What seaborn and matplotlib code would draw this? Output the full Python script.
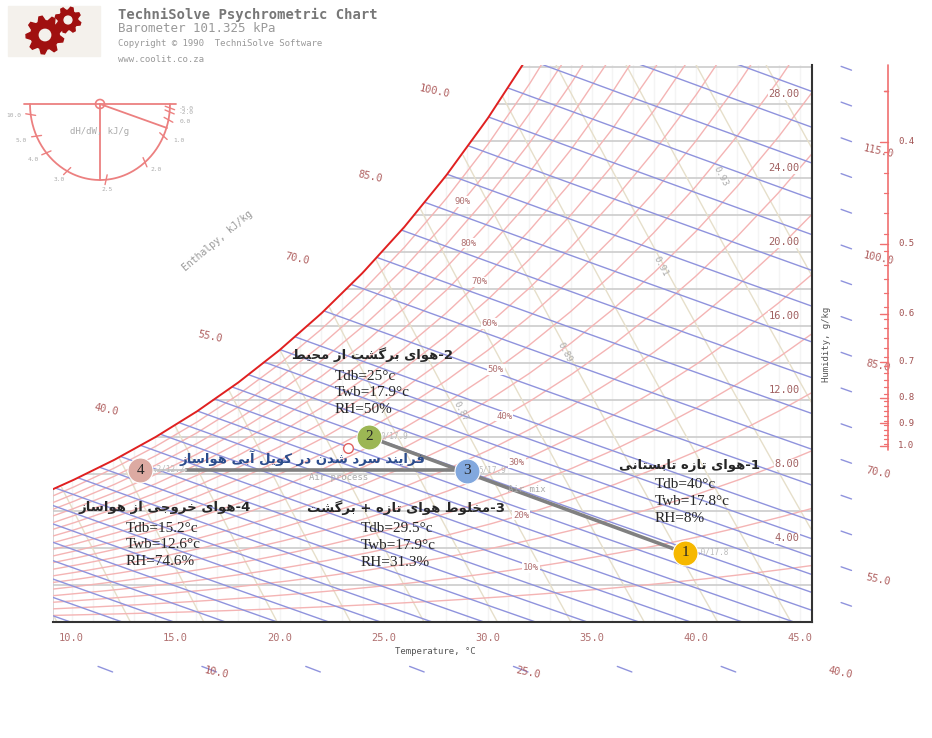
import numpy as np
import matplotlib
matplotlib.use("Agg")
import matplotlib.pyplot as plt
import seaborn as sns
from matplotlib.patches import Polygon, Circle

sns.set_theme(style="white")
plt.rcParams['font.family'] = ['DejaVu Sans']

# ---------------- data ----------------
P_ATM = 101.325
sat_T = [8, 9, 10, 12, 14, 16, 18, 20, 22, 24, 26, 28, 30, 32, 34, 36, 38, 40, 42, 44, 46]
sat_p = [1.073, 1.148, 1.228, 1.403, 1.599, 1.818, 2.064, 2.339, 2.645, 2.985, 3.363,
         3.782, 4.246, 4.759, 5.324, 5.947, 6.632, 7.384, 8.208, 9.112, 10.10]
rh_levels = [5, 10, 15, 20, 25, 30, 35, 40, 45, 50, 55, 60, 65, 70, 75, 80, 85, 90, 95]
rh_labels = [10, 20, 30, 40, 50, 60, 70, 80, 90]
rh_label_T = [32.1, 31.6, 31.4, 30.8, 30.4, 30.1, 29.6, 29.1, 28.8]
enthalpy_levels = list(np.arange(0, 60, 2.5)) + list(range(60, 135, 5))
enthalpy_labels_left = [40, 55, 70, 85, 100]
enthalpy_labels_right = [55, 70, 85, 100, 115]
enthalpy_labels_bottom = [10, 25, 40]
volume_levels = [0.80, 0.81, 0.82, 0.83, 0.84, 0.85, 0.86, 0.87, 0.88, 0.89, 0.90, 0.91, 0.92, 0.93, 0.94]
volume_labels = [0.87, 0.89, 0.91, 0.93]
volume_label_T = [28.7, 33.7, 38.3, 41.2]
volume_label_W = [11.4, 14.6, 19.2, 24.1]
temp_ticks = [10, 15, 20, 25, 30, 35, 40, 45]
hum_ticks = [4, 8, 12, 16, 20, 24, 28]

pt_names = ["1", "2", "3", "4"]
pt_T = [39.5, 24.3, 29.0, 13.3]
pt_W = [3.73, 10.0, 8.16, 8.2]
pt_colors = ["#f6b800", "#9cb654", "#82a8de", "#dcaaa2"]
pt_tags = [".0/17.8", "0/17.9", "5/17.9", ".2/12.2"]

titles = ["1-هوای تازه تابستانی", "2-هوای برگشت از محیط",
          "3-مخلوط هوای تازه + برگشت", "4-هوای خروجی از هواساز"]
props = [["Tdb=40°c", "Twb=17.8°c", "RH=8%"],
         ["Tdb=25°c", "Twb=17.9°c", "RH=50%"],
         ["Tdb=29.5°c", "Twb=17.9°c", "RH=31.3%"],
         ["Tdb=15.2°c", "Twb=12.6°c", "RH=74.6%"]]
process_text = "فرایند سرد شدن در کویل آبی هواساز"

shr_vals = [0.4, 0.5, 0.6, 0.7, 0.8, 0.9, 1.0]
shr_px = [142, 244, 314, 362, 398, 423, 446]

# -------------- Persian shaping (visual order) --------------
FORMS = {
    'ا': (0xFE8D, 0xFE8E, None, None), 'آ': (0xFE81, 0xFE82, None, None),
    'ب': (0xFE8F, 0xFE90, 0xFE91, 0xFE92), 'ت': (0xFE95, 0xFE96, 0xFE97, 0xFE98),
    'ج': (0xFE9D, 0xFE9E, 0xFE9F, 0xFEA0), 'ح': (0xFEA1, 0xFEA2, 0xFEA3, 0xFEA4),
    'خ': (0xFEA5, 0xFEA6, 0xFEA7, 0xFEA8), 'د': (0xFEA9, 0xFEAA, None, None),
    'ر': (0xFEAD, 0xFEAE, None, None), 'ز': (0xFEAF, 0xFEB0, None, None),
    'س': (0xFEB1, 0xFEB2, 0xFEB3, 0xFEB4), 'ش': (0xFEB5, 0xFEB6, 0xFEB7, 0xFEB8),
    'ط': (0xFEC1, 0xFEC2, 0xFEC3, 0xFEC4), 'ف': (0xFED1, 0xFED2, 0xFED3, 0xFED4),
    'ل': (0xFEDD, 0xFEDE, 0xFEDF, 0xFEE0), 'م': (0xFEE1, 0xFEE2, 0xFEE3, 0xFEE4),
    'ن': (0xFEE5, 0xFEE6, 0xFEE7, 0xFEE8), 'ه': (0xFEE9, 0xFEEA, 0xFEEB, 0xFEEC),
    'و': (0xFEED, 0xFEEE, None, None), 'ی': (0xFBFC, 0xFBFD, 0xFBFE, 0xFBFF),
    'ک': (0xFB8E, 0xFB8F, 0xFB90, 0xFB91), 'گ': (0xFB92, 0xFB93, 0xFB94, 0xFB95),
}

def shape(s):
    out = []
    n = len(s)
    for i, c in enumerate(s):
        if c not in FORMS:
            out.append(c)
            continue
        f = FORMS[c]
        prev = s[i - 1] if i > 0 else ''
        nxt = s[i + 1] if i + 1 < n else ''
        jp = prev in FORMS and FORMS[prev][2] is not None
        jn = nxt in FORMS and f[2] is not None
        if jp and jn:
            code = f[3]
        elif jp:
            code = f[1]
        elif jn:
            code = f[2]
        else:
            code = f[0]
        out.append(chr(code))
    return ''.join(out)

def persian(s):
    num = ''
    if '-' in s[:3]:
        num, s = s.split('-', 1)
    words = s.split(' ')
    vis = ' '.join(shape(w)[::-1] for w in reversed(words))
    return vis + ('-' + num if num else '')

# -------------- physics helpers on the typed table --------------
def pws(T):
    return np.interp(T, sat_T, sat_p)

def w_rh(T, rh):
    p = rh * pws(T)
    return 622.0 * p / (P_ATM - p)

def w_h(h, T):
    return (h - 1.006 * T) / (2501 + 1.86 * T) * 1000

def w_v(v, T):
    return (v * P_ATM / (0.287 * (T + 273.15)) - 1) / 1.6078 * 1000

# -------------- figure --------------
W_PX, H_PX = 932, 738
fig = plt.figure(figsize=(W_PX / 100, H_PX / 100), dpi=100)
fig.patch.set_facecolor("white")
ax = fig.add_axes([53 / W_PX, 1 - 622 / H_PX, 759 / W_PX, 557 / H_PX])
ax.set_xlim(9.1, 45.6)
ax.set_ylim(0, 30.1)
ax.set_facecolor("white")

Tg = np.linspace(9.1, 46, 800)
Wsat = w_rh(Tg, 1.0)

def masked(W):
    W = np.array(W, dtype=float)
    W[W > Wsat] = np.nan
    return W

# grid
for t in range(10, 46):
    sns.lineplot(x=[t, t], y=[0, float(w_rh(t, 1.0))], ax=ax, color="#c8c8c8", lw=1.1, zorder=1)
sat_curve_W = w_rh(np.array(sat_T, float), 1.0)
for w in range(2, 31, 2):
    tdew = float(np.interp(w, sat_curve_W, sat_T))
    sns.lineplot(x=[max(tdew, 9.1), 45.6], y=[w, w], ax=ax, color="#c8c8c8", lw=1.1, zorder=1)
ax.plot([9.1, 9.1], [0, float(w_rh(9.1, 1.0))], color="#c8c8c8", lw=1.1, zorder=1)

# volume lines
for v in volume_levels:
    ax.plot(Tg, masked(w_v(v, Tg)), color="#e6dfca", lw=1.0, zorder=1.5)
for v, t, w in zip(volume_labels, volume_label_T, volume_label_W):
    ax.text(t, w, f"{v:.2f}", fontsize=6.5, family="DejaVu Sans Mono",
            color="#aaaaaa", rotation=-62, ha="center", va="center", zorder=4)

# RH curves
for rh in rh_levels:
    ax.plot(Tg, w_rh(Tg, rh / 100), color="#f4b4b4", lw=1.0, zorder=2)
for rh, t in zip(rh_labels, rh_label_T):
    ax.text(t, float(w_rh(t, rh / 100)), f"{rh}%", fontsize=6.5, family="DejaVu Sans Mono",
            color="#b07070", ha="center", va="center", zorder=4,
            bbox=dict(facecolor="white", edgecolor="none", pad=0.5))

# enthalpy lines
for h in enthalpy_levels:
    ax.plot(Tg, masked(w_h(h, Tg)), color="#8f93dd", lw=1.0, zorder=2)

# saturation curve
ax.plot(Tg, Wsat, color="#e02020", lw=1.4, zorder=3)

# enthalpy dashes and labels outside the chart
for h in range(0, 135, 5):
    t0, t1 = 47.0, 47.5
    w0, w1 = w_h(h, t0), w_h(h, t1)
    if 0 < w0 < 30.5:
        ax.plot([t0, t1], [w0, w1], color="#8f93dd", lw=1.0, clip_on=False)
    tb = (h + 2.6 * 2.55) / (1.006 - 0.00186 * 2.6)
    if 9 < tb < 46.5:
        ax.plot([tb - 0.35, tb + 0.35], [-2.4, -2.7], color="#8f93dd", lw=1.0, clip_on=False)
for h in enthalpy_labels_right:
    ax.text(48.8, float(w_h(h, 48.8)), f"{h:.1f}", fontsize=7.5, family="DejaVu Sans Mono",
            color="#b06060", rotation=-12, ha="center", va="center", clip_on=False)
for h in enthalpy_labels_bottom:
    tb = (h + 2.75 * 2.54) / (1.006 - 0.00186 * 2.75)
    ax.text(tb, -2.75, f"{h:.1f}", fontsize=7.5, family="DejaVu Sans Mono",
            color="#b06060", rotation=-12, ha="center", va="center", clip_on=False)
for h in enthalpy_labels_left:
    d = np.abs(w_h(h, Tg) - Wsat)
    ti = Tg[np.argmin(d)] - 2.6
    ax.text(ti, float(w_h(h, ti)) + 0.3, f"{h:.1f}", fontsize=7.5, family="DejaVu Sans Mono",
            color="#b06060", rotation=-12, ha="center", va="center", clip_on=False)

# axes frame
for s in ["top", "left"]:
    ax.spines[s].set_visible(False)
for s in ["bottom", "right"]:
    ax.spines[s].set_color("#333333")
    ax.spines[s].set_linewidth(1.5)
ax.set_xticks([])
ax.set_yticks([])
for t in temp_ticks:
    ax.text(t, -0.6, f"{t:.1f}", fontsize=7.5, family="DejaVu Sans Mono", color="#b07070",
            ha="center", va="top", clip_on=False)
for w in hum_ticks:
    ax.text(45.0, w + 0.25, f"{w:.2f}", fontsize=7.5, family="DejaVu Sans Mono", color="#a06060",
            ha="right", va="bottom", zorder=4,
            bbox=dict(facecolor="white", edgecolor="none", pad=0.3))
ax.text(27.5, -1.35, "Temperature, °C", fontsize=6.5, family="DejaVu Sans Mono", color="#555555",
        ha="center", va="top", clip_on=False)
ax.text(46.3, 15.0, "Humidity, g/kg", fontsize=6.5, family="DejaVu Sans Mono", color="#555555",
        rotation=90, ha="center", va="center", clip_on=False)
ax.text(17.0, 20.6, "Enthalpy, kJ/kg", fontsize=7, family="DejaVu Sans Mono", color="#999999",
        rotation=40, ha="center", va="center", clip_on=False)

# process lines
ax.plot([pt_T[1], pt_T[0]], [pt_W[1], pt_W[0]], color="#808080", lw=2.6, zorder=5)
ax.plot([15.5, pt_T[2]], [pt_W[3], pt_W[3]], color="#808080", lw=2.6, zorder=5)
ax.plot([pt_T[3], 15.5], [pt_W[3], pt_W[3]], color="#c8c8c8", lw=1.5, zorder=5)
ax.plot([23.3], [9.4], marker="o", ms=7, mfc="white", mec="#e06060", mew=1, zorder=6)
ax.text(31.0, 7.0, "Air mix", fontsize=6.5, family="DejaVu Sans Mono", color="#aaaaaa", zorder=6)
ax.text(21.4, 7.7, "Air process", fontsize=6.5, family="DejaVu Sans Mono", color="#aaaaaa", zorder=6)

# points
for n, t, w, c, tag in zip(pt_names, pt_T, pt_W, pt_colors, pt_tags):
    ax.plot([t], [w], marker="o", ms=18, mfc=c, mec="white", mew=0.8, zorder=7)
    ax.text(t, w, n, fontsize=11, family="Liberation Serif", ha="center", va="center", zorder=8)
    ax.text(t + 0.55, w + 0.05, tag, fontsize=5.5, family="DejaVu Sans Mono", color="#bbbbbb",
            ha="left", va="center", zorder=6)

# annotation texts (pixel positions)
def ftext(x, y, s, **kw):
    fig.text(x / W_PX, 1 - y / H_PX, s, **kw)

title_pos = [(760, 465), (453, 355), (505, 508), (251, 507)]
prop_pos = [(655, 485), (335, 376), (361, 529), (126, 528)]
for (tx, ty), s in zip(title_pos, titles):
    ftext(tx, ty, persian(s), fontsize=9.5, weight="bold", family=["DejaVu Sans"],
          ha="right", va="center", zorder=9)
for (px, py), lines in zip(prop_pos, props):
    for i, s in enumerate(lines):
        ftext(px, py + i * 16.8, s, fontsize=11, family="Liberation Serif", ha="left",
              va="center", zorder=9)
ftext(302, 458, persian(process_text), fontsize=9.5, weight="bold", family=["DejaVu Sans"],
      color="#2b4c8c", ha="center", va="center", zorder=9)

# -------------- decorations overlay (pixel space) --------------
ov = fig.add_axes([0, 0, 1, 1], facecolor="none")
ov.set_xlim(0, W_PX)
ov.set_ylim(H_PX, 0)
ov.axis("off")

ov.add_patch(plt.Rectangle((8, 6), 92, 50, color="#f4f1ec", zorder=0))
def gear(cx, cy, r, teeth):
    ang = np.linspace(0, 2 * np.pi, teeth * 4, endpoint=False)
    rad = np.array([r, r, r * 0.75, r * 0.75] * teeth)
    pts = np.c_[cx + rad * np.cos(ang + 0.2), cy + rad * np.sin(ang + 0.2)]
    ov.add_patch(Polygon(pts, closed=True, color="#a01010", zorder=1))
    ov.add_patch(Circle((cx, cy), r * 0.3, color="#f4f1ec", zorder=2))
gear(45, 35, 19, 9)
gear(68, 20, 13, 8)

ftext(118, 15, "TechniSolve Psychrometric Chart", fontsize=10, weight="bold",
      family="DejaVu Sans Mono", color="#777777", ha="left", va="center")
ftext(118, 29, "Barometer 101.325 kPa", fontsize=9, family="DejaVu Sans Mono", color="#999999",
      ha="left", va="center")
ftext(118, 44, "Copyright © 1990  TechniSolve Software", fontsize=6.5, family="DejaVu Sans Mono",
      color="#999999", ha="left", va="center")
ftext(118, 59, "www.coolit.co.za", fontsize=6.5, family="DejaVu Sans Mono", color="#999999",
      ha="left", va="center")

# protractor
pc = "#ec8080"
cx, cy, rx, ry = 100, 104, 70, 76
th = np.linspace(0, np.pi, 200)
ov.plot(cx + rx * np.cos(th), cy + ry * np.sin(th), color=pc, lw=1.3)
ov.plot([24, 176], [cy, cy], color=pc, lw=1.3)
ov.plot([cx, cx], [cy, cy + ry], color=pc, lw=1.3)
ov.plot([cx, 167], [cy, 128], color=pc, lw=1.3)
ov.add_patch(Circle((cx, cy), 4.5, fill=False, ec=pc, lw=1.2))
prot_labels = [("10.0", 172), ("5.0", 155), ("4.0", 140), ("3.0", 118), ("2.5", 85),
               ("2.0", 50), ("1.0", 25), ("0.0", 12), ("-2.0", 6), ("-5.0", 3)]
for lab, deg in prot_labels:
    a = np.deg2rad(deg)
    x0, y0 = cx + rx * np.cos(a), cy + ry * np.sin(a)
    ov.plot([x0 - 5 * np.cos(a + 0.3), x0 + 5 * np.cos(a + 0.3)],
            [y0 - 5 * np.sin(a + 0.3), y0 + 5 * np.sin(a + 0.3)], color=pc, lw=1)
    ov.text(cx + (rx + 17) * np.cos(a), cy + (ry + 10) * np.sin(a), lab, fontsize=4.5,
            color="#aaaaaa", ha="center", va="center", family="DejaVu Sans Mono")
ov.text(cx, 131, "dH/dW, kJ/g", fontsize=6.5, color="#aaaaaa", ha="center", va="center",
        family="DejaVu Sans Mono")

# sensible heat ratio scale
ov.plot([888, 888], [65, 450], color="#f07070", lw=1.2)
minor = np.arange(0.35, 1.001, 0.02)
mp = np.interp(minor, shr_vals, shr_px, left=142 - (0.4 - 0.35) * 1020)
for y in mp:
    if y > 65:
        ov.plot([884, 888], [y, y], color="#f07070", lw=0.9)
for v, y in zip(shr_vals, shr_px):
    ov.plot([880, 888], [y, y], color="#f07070", lw=1.0)
    ov.text(898, y, f"{v:.1f}", fontsize=6.5, color="#a05050", ha="left", va="center",
            family="DejaVu Sans Mono")

fig.savefig("out.png", dpi=100, facecolor="white")
